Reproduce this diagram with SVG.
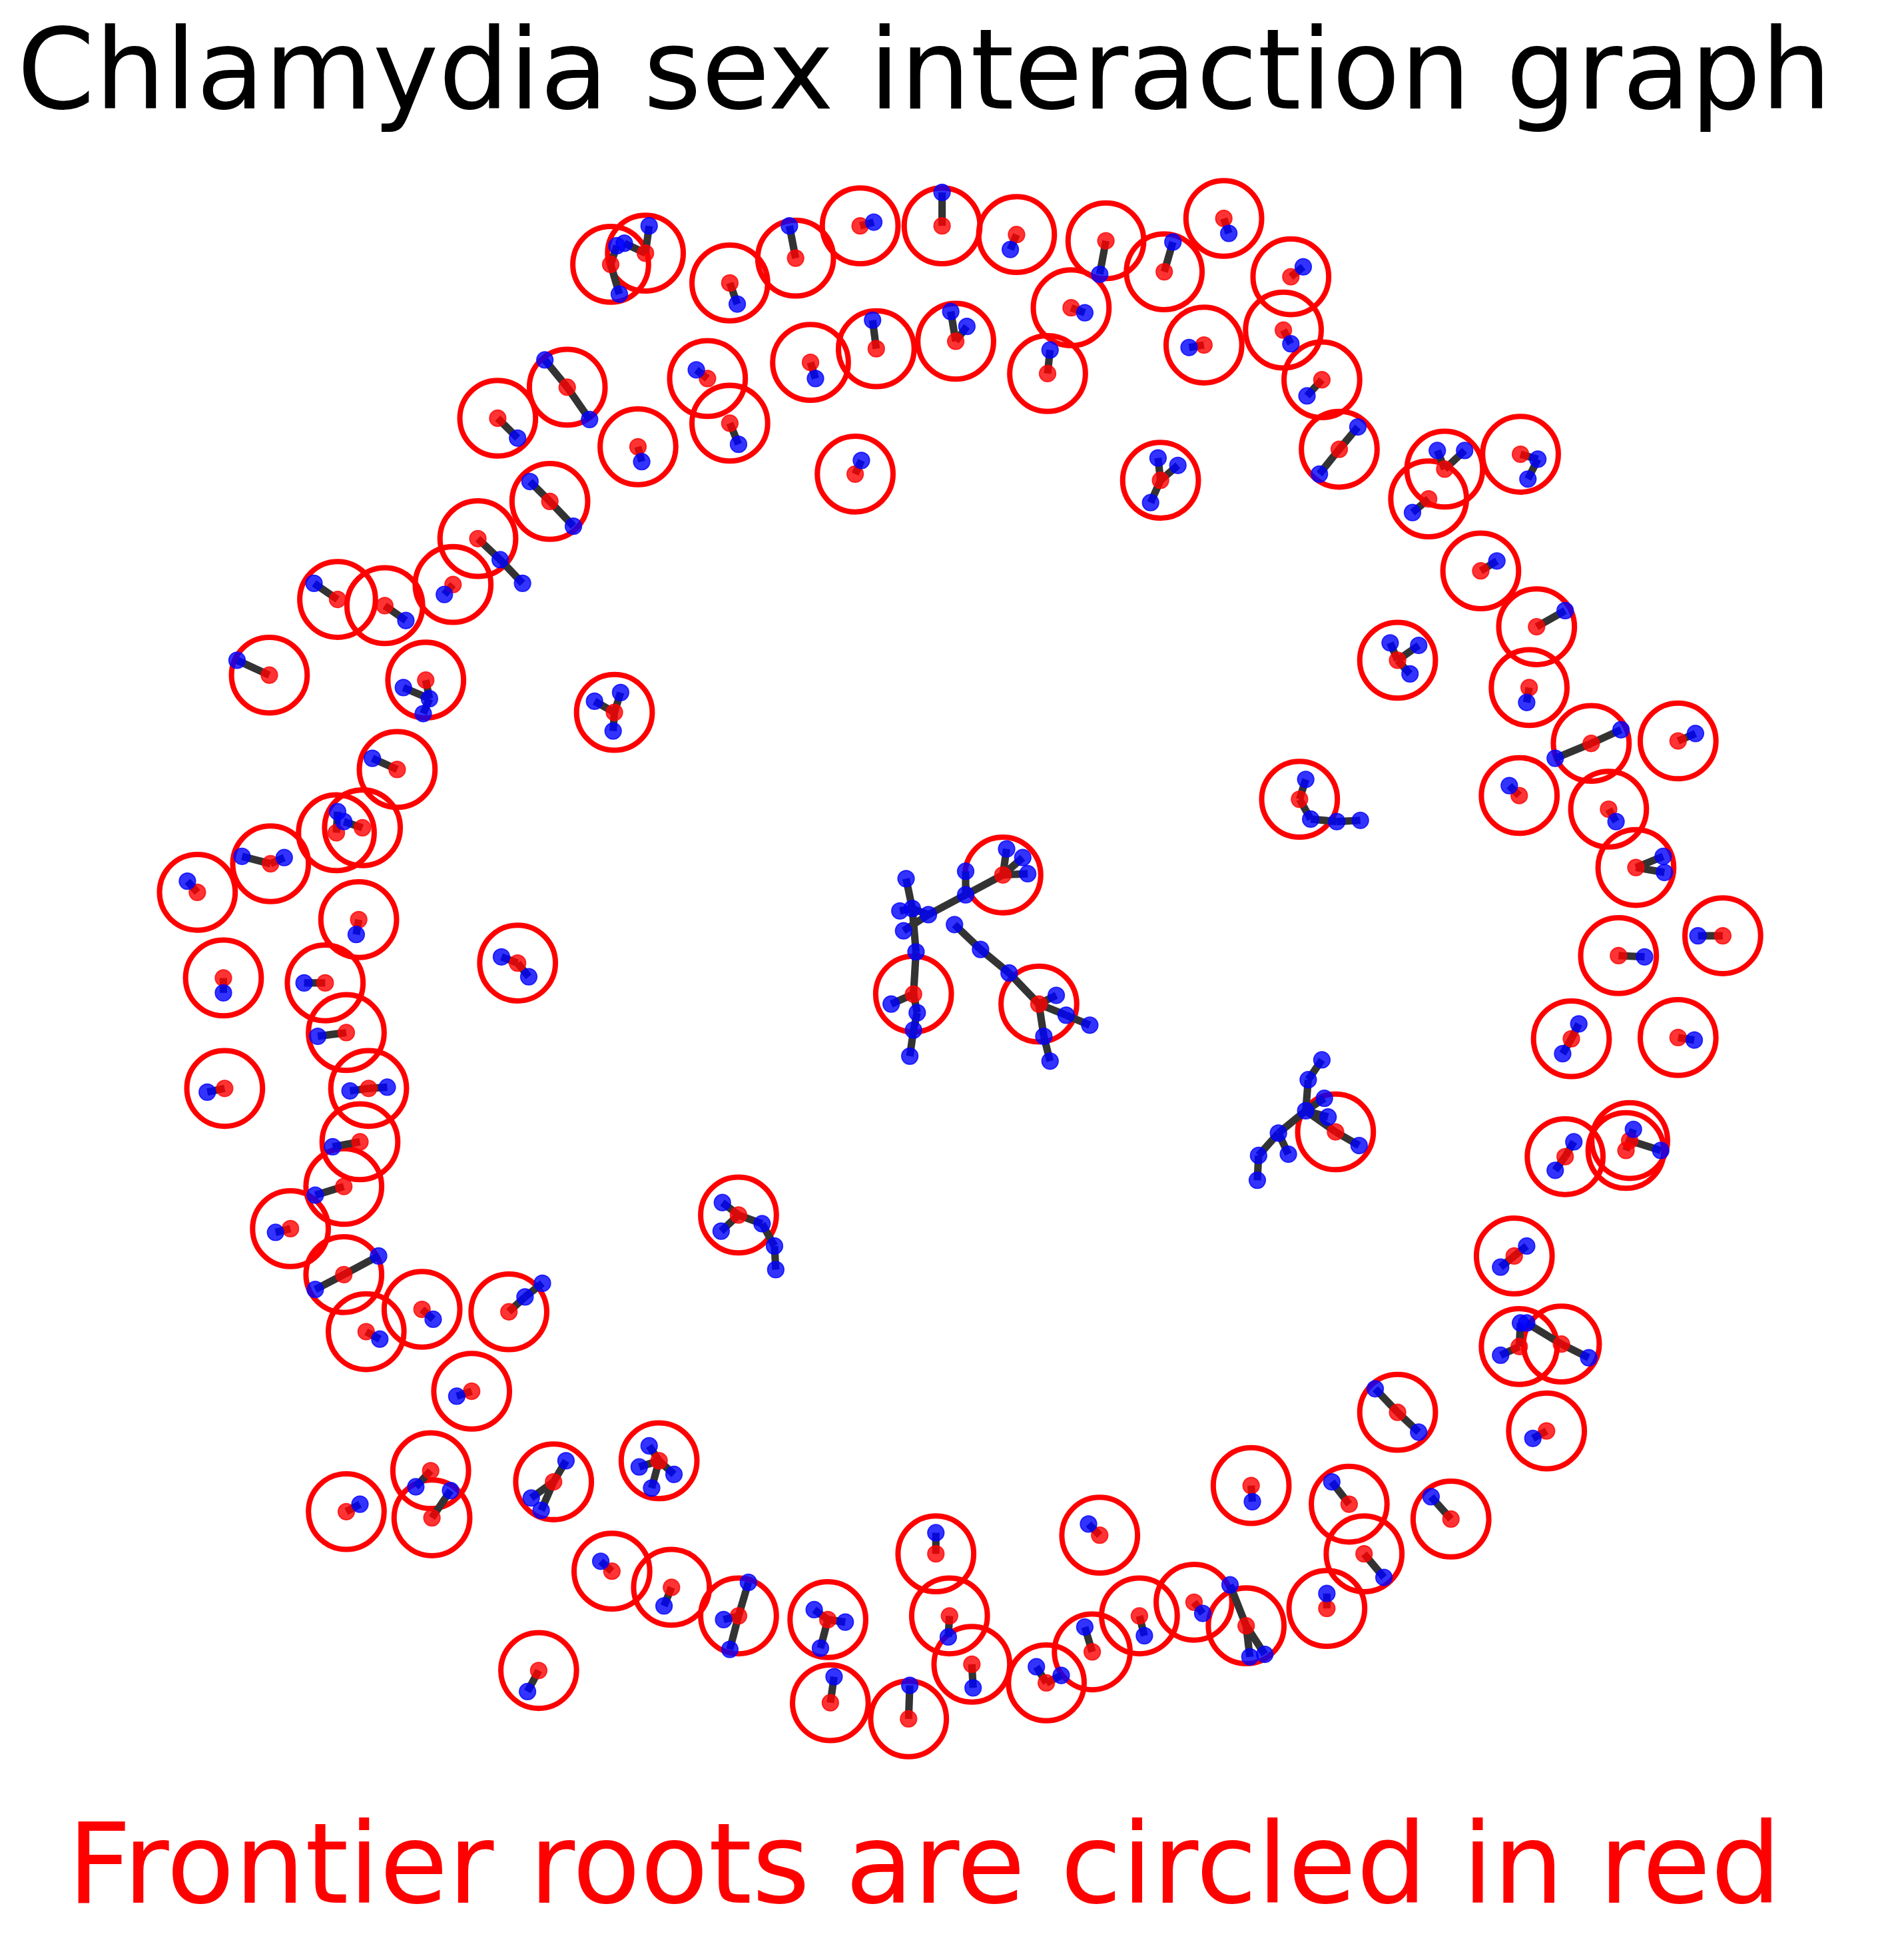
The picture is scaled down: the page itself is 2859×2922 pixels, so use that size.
<svg xmlns="http://www.w3.org/2000/svg" width="2859" height="2922" viewBox="0 0 2859 2922">
<style>
.ring{fill:none;stroke:#ff0000;stroke-width:4.3}
.e line{stroke:#333333;stroke-width:6}
.r{fill:#ff0000;fill-opacity:.8;stroke:#ff0000;stroke-opacity:.8;stroke-width:.9}
.b{fill:#0000ff;fill-opacity:.8;stroke:#0000ff;stroke-opacity:.8;stroke-width:.9}
.t{font-family:"DejaVu Sans",Verdana,sans-serif;text-anchor:middle}
</style>
<rect width="2859" height="2922" fill="#ffffff"/>
<text class="t" x="1388" y="163" font-size="167" fill="#000000">Chlamydia sex interaction graph</text>
<text class="t" x="1388" y="2857" font-size="167" fill="#ff0000">Frontier roots are circled in red</text>
<g transform="scale(1.86375,1.86352)">
<g id="rings">
<circle class="ring" cx="492" cy="213" r="30.5"/><circle class="ring" cx="520" cy="204" r="30.5"/><circle class="ring" cx="588" cy="228" r="30.5"/><circle class="ring" cx="641" cy="208" r="30.5"/><circle class="ring" cx="693" cy="182" r="30.5"/><circle class="ring" cx="759" cy="182" r="30.5"/><circle class="ring" cx="819" cy="189" r="30.5"/><circle class="ring" cx="891" cy="194" r="30.5"/><circle class="ring" cx="938" cy="219" r="30.5"/><circle class="ring" cx="986" cy="176" r="30.5"/><circle class="ring" cx="1040" cy="223" r="30.5"/><circle class="ring" cx="1034" cy="266" r="30.5"/><circle class="ring" cx="1065" cy="306" r="30.5"/><circle class="ring" cx="1079" cy="362" r="30.5"/><circle class="ring" cx="1164" cy="378" r="30.5"/><circle class="ring" cx="1151" cy="402" r="30.5"/><circle class="ring" cx="1225" cy="366" r="30.5"/><circle class="ring" cx="1193" cy="460" r="30.5"/><circle class="ring" cx="570" cy="305" r="30.5"/><circle class="ring" cx="588" cy="341" r="30.5"/><circle class="ring" cx="653" cy="292" r="30.5"/><circle class="ring" cx="706" cy="281" r="30.5"/><circle class="ring" cx="770" cy="275" r="30.5"/><circle class="ring" cx="863" cy="248" r="30.5"/><circle class="ring" cx="844" cy="301" r="30.5"/><circle class="ring" cx="970" cy="278" r="30.5"/><circle class="ring" cx="689" cy="382" r="30.5"/><circle class="ring" cx="935" cy="387" r="30.5"/><circle class="ring" cx="401" cy="337" r="30.5"/><circle class="ring" cx="457" cy="312" r="30.5"/><circle class="ring" cx="514" cy="360" r="30.5"/><circle class="ring" cx="443" cy="404" r="30.5"/><circle class="ring" cx="385" cy="434" r="30.5"/><circle class="ring" cx="272" cy="483" r="30.5"/><circle class="ring" cx="310" cy="488" r="30.5"/><circle class="ring" cx="365" cy="471" r="30.5"/><circle class="ring" cx="217" cy="544" r="30.5"/><circle class="ring" cx="343" cy="548" r="30.5"/><circle class="ring" cx="495" cy="574" r="30.5"/><circle class="ring" cx="320" cy="620" r="30.5"/><circle class="ring" cx="271" cy="671" r="30.5"/><circle class="ring" cx="292" cy="667" r="30.5"/><circle class="ring" cx="218" cy="696" r="30.5"/><circle class="ring" cx="159" cy="719" r="30.5"/><circle class="ring" cx="289" cy="741" r="30.5"/><circle class="ring" cx="417" cy="776" r="30.5"/><circle class="ring" cx="180" cy="788" r="30.5"/><circle class="ring" cx="262" cy="792" r="30.5"/><circle class="ring" cx="279" cy="832" r="30.5"/><circle class="ring" cx="181" cy="877" r="30.5"/><circle class="ring" cx="297" cy="877" r="30.5"/><circle class="ring" cx="290" cy="920" r="30.5"/><circle class="ring" cx="277" cy="956" r="30.5"/><circle class="ring" cx="234" cy="990" r="30.5"/><circle class="ring" cx="277" cy="1027" r="30.5"/><circle class="ring" cx="295" cy="1073" r="30.5"/><circle class="ring" cx="340" cy="1055" r="30.5"/><circle class="ring" cx="410" cy="1057" r="30.5"/><circle class="ring" cx="380" cy="1121" r="30.5"/><circle class="ring" cx="279" cy="1218" r="30.5"/><circle class="ring" cx="347" cy="1185" r="30.5"/><circle class="ring" cx="348" cy="1223" r="30.5"/><circle class="ring" cx="446" cy="1194" r="30.5"/><circle class="ring" cx="531" cy="1177" r="30.5"/><circle class="ring" cx="493" cy="1266" r="30.5"/><circle class="ring" cx="541" cy="1279" r="30.5"/><circle class="ring" cx="434" cy="1346" r="30.5"/><circle class="ring" cx="595" cy="1302" r="30.5"/><circle class="ring" cx="667" cy="1305" r="30.5"/><circle class="ring" cx="669" cy="1372" r="30.5"/><circle class="ring" cx="732" cy="1385" r="30.5"/><circle class="ring" cx="754" cy="1252" r="30.5"/><circle class="ring" cx="765" cy="1302" r="30.5"/><circle class="ring" cx="783" cy="1341" r="30.5"/><circle class="ring" cx="886" cy="1237" r="30.5"/><circle class="ring" cx="843" cy="1356" r="30.5"/><circle class="ring" cx="880" cy="1331" r="30.5"/><circle class="ring" cx="918" cy="1302" r="30.5"/><circle class="ring" cx="962" cy="1291" r="30.5"/><circle class="ring" cx="1004" cy="1310" r="30.5"/><circle class="ring" cx="1069" cy="1296" r="30.5"/><circle class="ring" cx="1008" cy="1197" r="30.5"/><circle class="ring" cx="1087" cy="1212" r="30.5"/><circle class="ring" cx="1099" cy="1252" r="30.5"/><circle class="ring" cx="1169" cy="1224" r="30.5"/><circle class="ring" cx="1126" cy="1138" r="30.5"/><circle class="ring" cx="1246" cy="1153" r="30.5"/><circle class="ring" cx="1076" cy="912" r="30.5"/><circle class="ring" cx="1266" cy="837" r="30.5"/><circle class="ring" cx="1352" cy="836" r="30.5"/><circle class="ring" cx="1261" cy="932" r="30.5"/><circle class="ring" cx="1313" cy="919" r="30.5"/><circle class="ring" cx="1310" cy="927" r="30.5"/><circle class="ring" cx="1220" cy="1012" r="30.5"/><circle class="ring" cx="1224" cy="1085" r="30.5"/><circle class="ring" cx="1258" cy="1083" r="30.5"/><circle class="ring" cx="1126" cy="532" r="30.5"/><circle class="ring" cx="1238" cy="505" r="30.5"/><circle class="ring" cx="1232" cy="554" r="30.5"/><circle class="ring" cx="1282" cy="599" r="30.5"/><circle class="ring" cx="1352" cy="597" r="30.5"/><circle class="ring" cx="1224" cy="641" r="30.5"/><circle class="ring" cx="1296" cy="652" r="30.5"/><circle class="ring" cx="1318" cy="699" r="30.5"/><circle class="ring" cx="1047" cy="644" r="30.5"/><circle class="ring" cx="1304" cy="770" r="30.5"/><circle class="ring" cx="1388" cy="754" r="30.5"/><circle class="ring" cx="595" cy="979" r="30.5"/><circle class="ring" cx="808" cy="705" r="30.5"/><circle class="ring" cx="736" cy="801" r="30.5"/><circle class="ring" cx="837" cy="809" r="30.5"/>
</g>
<g id="edges" class="e">
<line x1="492" y1="213" x2="499" y2="237"/><line x1="492" y1="213" x2="497" y2="198"/>
<line x1="520" y1="204" x2="523" y2="182"/><line x1="520" y1="204" x2="503" y2="196"/>
<line x1="588" y1="228" x2="594" y2="245"/>
<line x1="641" y1="208" x2="636" y2="182"/>
<line x1="693" y1="182" x2="704" y2="179"/>
<line x1="759" y1="182" x2="759" y2="155"/>
<line x1="819" y1="189" x2="814" y2="201"/>
<line x1="891" y1="194" x2="886" y2="221"/>
<line x1="938" y1="219" x2="945" y2="195"/>
<line x1="986" y1="176" x2="990" y2="188"/>
<line x1="1040" y1="223" x2="1050" y2="215"/>
<line x1="1034" y1="266" x2="1040" y2="277"/>
<line x1="1065" y1="306" x2="1053" y2="319"/>
<line x1="1079" y1="362" x2="1094" y2="344"/><line x1="1079" y1="362" x2="1063" y2="382"/>
<line x1="1164" y1="378" x2="1158" y2="363"/><line x1="1164" y1="378" x2="1180" y2="363"/>
<line x1="1151" y1="402" x2="1138" y2="413"/>
<line x1="1225" y1="366" x2="1239" y2="370"/><line x1="1239" y1="370" x2="1231" y2="386"/>
<line x1="1193" y1="460" x2="1206" y2="452"/>
<line x1="570" y1="305" x2="561" y2="298"/>
<line x1="588" y1="341" x2="595" y2="358"/>
<line x1="653" y1="292" x2="657" y2="305"/>
<line x1="706" y1="281" x2="703" y2="258"/>
<line x1="770" y1="275" x2="766" y2="251"/><line x1="770" y1="275" x2="779" y2="263"/>
<line x1="863" y1="248" x2="874" y2="252"/>
<line x1="844" y1="301" x2="846" y2="282"/>
<line x1="970" y1="278" x2="958" y2="280"/>
<line x1="689" y1="382" x2="694" y2="371"/>
<line x1="935" y1="387" x2="933" y2="369"/><line x1="935" y1="387" x2="949" y2="375"/><line x1="935" y1="387" x2="927" y2="405"/>
<line x1="401" y1="337" x2="417" y2="353"/>
<line x1="457" y1="312" x2="439" y2="290"/><line x1="457" y1="312" x2="475" y2="338"/>
<line x1="514" y1="360" x2="517" y2="372"/>
<line x1="443" y1="404" x2="427" y2="388"/><line x1="443" y1="404" x2="462" y2="424"/>
<line x1="385" y1="434" x2="403" y2="451"/><line x1="403" y1="451" x2="421" y2="470"/>
<line x1="272" y1="483" x2="253" y2="470"/>
<line x1="310" y1="488" x2="327" y2="500"/>
<line x1="365" y1="471" x2="358" y2="479"/>
<line x1="217" y1="544" x2="191" y2="532"/>
<line x1="343" y1="548" x2="346" y2="563"/><line x1="346" y1="563" x2="325" y2="554"/><line x1="346" y1="563" x2="341" y2="575"/>
<line x1="495" y1="574" x2="479" y2="565"/><line x1="495" y1="574" x2="500" y2="558"/><line x1="495" y1="574" x2="494" y2="589"/>
<line x1="320" y1="620" x2="300" y2="611"/>
<line x1="271" y1="671" x2="272" y2="654"/>
<line x1="292" y1="667" x2="277" y2="662"/>
<line x1="218" y1="696" x2="195" y2="690"/><line x1="218" y1="696" x2="229" y2="691"/>
<line x1="159" y1="719" x2="151" y2="710"/>
<line x1="289" y1="741" x2="287" y2="753"/>
<line x1="417" y1="776" x2="404" y2="771"/><line x1="417" y1="776" x2="426" y2="787"/>
<line x1="180" y1="788" x2="180" y2="800"/>
<line x1="262" y1="792" x2="245" y2="792"/>
<line x1="279" y1="832" x2="256" y2="835"/>
<line x1="181" y1="877" x2="167" y2="880"/>
<line x1="297" y1="877" x2="282" y2="879"/><line x1="297" y1="877" x2="312" y2="876"/>
<line x1="290" y1="920" x2="268" y2="924"/>
<line x1="277" y1="956" x2="254" y2="963"/>
<line x1="234" y1="990" x2="222" y2="993"/>
<line x1="277" y1="1027" x2="254" y2="1039"/><line x1="277" y1="1027" x2="305" y2="1012"/>
<line x1="295" y1="1073" x2="306" y2="1079"/>
<line x1="340" y1="1055" x2="349" y2="1063"/>
<line x1="410" y1="1057" x2="423" y2="1045"/><line x1="423" y1="1045" x2="437" y2="1034"/>
<line x1="380" y1="1121" x2="368" y2="1125"/>
<line x1="279" y1="1218" x2="290" y2="1212"/>
<line x1="347" y1="1185" x2="335" y2="1198"/>
<line x1="348" y1="1223" x2="363" y2="1201"/>
<line x1="446" y1="1194" x2="456" y2="1177"/><line x1="446" y1="1194" x2="428" y2="1207"/><line x1="446" y1="1194" x2="436" y2="1217"/>
<line x1="531" y1="1177" x2="523" y2="1165"/><line x1="531" y1="1177" x2="515" y2="1182"/><line x1="531" y1="1177" x2="543" y2="1188"/><line x1="531" y1="1177" x2="525" y2="1199"/>
<line x1="493" y1="1266" x2="484" y2="1258"/>
<line x1="541" y1="1279" x2="535" y2="1294"/>
<line x1="434" y1="1346" x2="425" y2="1363"/>
<line x1="595" y1="1302" x2="603" y2="1275"/><line x1="595" y1="1302" x2="583" y2="1305"/><line x1="595" y1="1302" x2="588" y2="1329"/>
<line x1="667" y1="1305" x2="656" y2="1297"/><line x1="667" y1="1305" x2="681" y2="1307"/><line x1="667" y1="1305" x2="661" y2="1328"/>
<line x1="669" y1="1372" x2="672" y2="1351"/>
<line x1="732" y1="1385" x2="733" y2="1358"/>
<line x1="754" y1="1252" x2="754" y2="1235"/>
<line x1="765" y1="1302" x2="764" y2="1319"/>
<line x1="783" y1="1341" x2="784" y2="1360"/>
<line x1="886" y1="1237" x2="877" y2="1228"/>
<line x1="843" y1="1356" x2="835" y2="1343"/><line x1="843" y1="1356" x2="855" y2="1350"/>
<line x1="880" y1="1331" x2="874" y2="1311"/>
<line x1="918" y1="1302" x2="922" y2="1318"/>
<line x1="962" y1="1291" x2="969" y2="1300"/>
<line x1="1004" y1="1310" x2="991" y2="1277"/><line x1="1004" y1="1310" x2="1007" y2="1335"/><line x1="1004" y1="1310" x2="1019" y2="1333"/>
<line x1="1069" y1="1296" x2="1069" y2="1284"/>
<line x1="1008" y1="1197" x2="1009" y2="1210"/>
<line x1="1087" y1="1212" x2="1073" y2="1194"/>
<line x1="1099" y1="1252" x2="1115" y2="1271"/>
<line x1="1169" y1="1224" x2="1153" y2="1206"/>
<line x1="1126" y1="1138" x2="1108" y2="1119"/><line x1="1126" y1="1138" x2="1143" y2="1154"/>
<line x1="1246" y1="1153" x2="1235" y2="1159"/>
<line x1="1065" y1="854" x2="1054" y2="870"/><line x1="1054" y1="870" x2="1052" y2="895"/><line x1="1052" y1="895" x2="1067" y2="885"/><line x1="1052" y1="895" x2="1070" y2="900"/><line x1="1052" y1="895" x2="1076" y2="912"/><line x1="1076" y1="912" x2="1095" y2="923"/><line x1="1052" y1="895" x2="1030" y2="913"/><line x1="1030" y1="913" x2="1014" y2="931"/><line x1="1014" y1="931" x2="1013" y2="951"/><line x1="1030" y1="913" x2="1038" y2="930"/>
<line x1="1266" y1="837" x2="1272" y2="825"/><line x1="1266" y1="837" x2="1259" y2="849"/>
<line x1="1352" y1="836" x2="1365" y2="838"/>
<line x1="1261" y1="932" x2="1268" y2="920"/><line x1="1261" y1="932" x2="1253" y2="943"/>
<line x1="1313" y1="919" x2="1338" y2="927"/>
<line x1="1310" y1="927" x2="1316" y2="910"/>
<line x1="1220" y1="1012" x2="1230" y2="1004"/><line x1="1220" y1="1012" x2="1209" y2="1021"/>
<line x1="1224" y1="1085" x2="1225" y2="1066"/><line x1="1224" y1="1085" x2="1209" y2="1092"/>
<line x1="1258" y1="1083" x2="1230" y2="1066"/><line x1="1258" y1="1083" x2="1280" y2="1094"/>
<line x1="1126" y1="532" x2="1120" y2="518"/><line x1="1126" y1="532" x2="1143" y2="520"/><line x1="1126" y1="532" x2="1136" y2="543"/>
<line x1="1238" y1="505" x2="1261" y2="492"/>
<line x1="1232" y1="554" x2="1230" y2="566"/>
<line x1="1282" y1="599" x2="1306" y2="588"/><line x1="1282" y1="599" x2="1253" y2="611"/>
<line x1="1352" y1="597" x2="1366" y2="591"/>
<line x1="1224" y1="641" x2="1216" y2="633"/>
<line x1="1296" y1="652" x2="1302" y2="662"/>
<line x1="1318" y1="699" x2="1340" y2="690"/><line x1="1318" y1="699" x2="1341" y2="703"/>
<line x1="1047" y1="644" x2="1052" y2="628"/><line x1="1047" y1="644" x2="1056" y2="660"/><line x1="1056" y1="660" x2="1077" y2="662"/><line x1="1077" y1="662" x2="1096" y2="661"/>
<line x1="1304" y1="770" x2="1325" y2="771"/>
<line x1="1388" y1="754" x2="1368" y2="754"/>
<line x1="595" y1="979" x2="582" y2="969"/><line x1="595" y1="979" x2="581" y2="992"/><line x1="595" y1="979" x2="614" y2="986"/><line x1="614" y1="986" x2="624" y2="1004"/><line x1="624" y1="1004" x2="625" y2="1023"/>
<line x1="808" y1="705" x2="811" y2="684"/><line x1="808" y1="705" x2="824" y2="691"/><line x1="808" y1="705" x2="828" y2="704"/><line x1="808" y1="705" x2="778" y2="721"/><line x1="778" y1="721" x2="778" y2="702"/><line x1="778" y1="721" x2="748" y2="737"/><line x1="748" y1="737" x2="735" y2="732"/><line x1="748" y1="737" x2="728" y2="750"/><line x1="735" y1="732" x2="725" y2="734"/><line x1="735" y1="732" x2="730" y2="708"/><line x1="735" y1="732" x2="738" y2="767"/><line x1="738" y1="767" x2="736" y2="801"/><line x1="736" y1="801" x2="718" y2="809"/><line x1="736" y1="801" x2="739" y2="816"/><line x1="739" y1="816" x2="736" y2="830"/><line x1="736" y1="830" x2="733" y2="851"/>
<line x1="769" y1="745" x2="790" y2="765"/><line x1="790" y1="765" x2="813" y2="784"/><line x1="813" y1="784" x2="837" y2="809"/><line x1="837" y1="809" x2="851" y2="802"/><line x1="837" y1="809" x2="859" y2="818"/><line x1="859" y1="818" x2="878" y2="826"/><line x1="837" y1="809" x2="841" y2="835"/><line x1="841" y1="835" x2="846" y2="855"/>
</g>
<g id="nodes">
<g id="root-1"><circle class="r" cx="492" cy="213" r="6.6"/></g><g id="root-2"><circle class="r" cx="520" cy="204" r="6.6"/></g><g id="root-3"><circle class="r" cx="588" cy="228" r="6.6"/></g><g id="root-4"><circle class="r" cx="641" cy="208" r="6.6"/></g><g id="root-5"><circle class="r" cx="693" cy="182" r="6.6"/></g><g id="root-6"><circle class="r" cx="759" cy="182" r="6.6"/></g><g id="root-7"><circle class="r" cx="819" cy="189" r="6.6"/></g><g id="root-8"><circle class="r" cx="891" cy="194" r="6.6"/></g><g id="root-9"><circle class="r" cx="938" cy="219" r="6.6"/></g><g id="root-10"><circle class="r" cx="986" cy="176" r="6.6"/></g><g id="root-11"><circle class="r" cx="1040" cy="223" r="6.6"/></g><g id="root-12"><circle class="r" cx="1034" cy="266" r="6.6"/></g><g id="root-13"><circle class="r" cx="1065" cy="306" r="6.6"/></g><g id="root-14"><circle class="r" cx="1079" cy="362" r="6.6"/></g><g id="root-15"><circle class="r" cx="1164" cy="378" r="6.6"/></g><g id="root-16"><circle class="r" cx="1151" cy="402" r="6.6"/></g><g id="root-17"><circle class="r" cx="1225" cy="366" r="6.6"/></g><g id="root-18"><circle class="r" cx="1193" cy="460" r="6.6"/></g><g id="root-19"><circle class="r" cx="570" cy="305" r="6.6"/></g><g id="root-20"><circle class="r" cx="588" cy="341" r="6.6"/></g><g id="root-21"><circle class="r" cx="653" cy="292" r="6.6"/></g><g id="root-22"><circle class="r" cx="706" cy="281" r="6.6"/></g><g id="root-23"><circle class="r" cx="770" cy="275" r="6.6"/></g><g id="root-24"><circle class="r" cx="863" cy="248" r="6.6"/></g><g id="root-25"><circle class="r" cx="844" cy="301" r="6.6"/></g><g id="root-26"><circle class="r" cx="970" cy="278" r="6.6"/></g><g id="root-27"><circle class="r" cx="689" cy="382" r="6.6"/></g><g id="root-28"><circle class="r" cx="935" cy="387" r="6.6"/></g><g id="root-29"><circle class="r" cx="401" cy="337" r="6.6"/></g><g id="root-30"><circle class="r" cx="457" cy="312" r="6.6"/></g><g id="root-31"><circle class="r" cx="514" cy="360" r="6.6"/></g><g id="root-32"><circle class="r" cx="443" cy="404" r="6.6"/></g><g id="root-33"><circle class="r" cx="385" cy="434" r="6.6"/></g><g id="root-34"><circle class="r" cx="272" cy="483" r="6.6"/></g><g id="root-35"><circle class="r" cx="310" cy="488" r="6.6"/></g><g id="root-36"><circle class="r" cx="365" cy="471" r="6.6"/></g><g id="root-37"><circle class="r" cx="217" cy="544" r="6.6"/></g><g id="root-38"><circle class="r" cx="343" cy="548" r="6.6"/></g><g id="root-39"><circle class="r" cx="495" cy="574" r="6.6"/></g><g id="root-40"><circle class="r" cx="320" cy="620" r="6.6"/></g><g id="root-41"><circle class="r" cx="271" cy="671" r="6.6"/></g><g id="root-42"><circle class="r" cx="292" cy="667" r="6.6"/></g><g id="root-43"><circle class="r" cx="218" cy="696" r="6.6"/></g><g id="root-44"><circle class="r" cx="159" cy="719" r="6.6"/></g><g id="root-45"><circle class="r" cx="289" cy="741" r="6.6"/></g><g id="root-46"><circle class="r" cx="417" cy="776" r="6.6"/></g><g id="root-47"><circle class="r" cx="180" cy="788" r="6.6"/></g><g id="root-48"><circle class="r" cx="262" cy="792" r="6.6"/></g><g id="root-49"><circle class="r" cx="279" cy="832" r="6.6"/></g><g id="root-50"><circle class="r" cx="181" cy="877" r="6.6"/></g><g id="root-51"><circle class="r" cx="297" cy="877" r="6.6"/></g><g id="root-52"><circle class="r" cx="290" cy="920" r="6.6"/></g><g id="root-53"><circle class="r" cx="277" cy="956" r="6.6"/></g><g id="root-54"><circle class="r" cx="234" cy="990" r="6.6"/></g><g id="root-55"><circle class="r" cx="277" cy="1027" r="6.6"/></g><g id="root-56"><circle class="r" cx="295" cy="1073" r="6.6"/></g><g id="root-57"><circle class="r" cx="340" cy="1055" r="6.6"/></g><g id="root-58"><circle class="r" cx="410" cy="1057" r="6.6"/></g><g id="root-59"><circle class="r" cx="380" cy="1121" r="6.6"/></g><g id="root-60"><circle class="r" cx="279" cy="1218" r="6.6"/></g><g id="root-61"><circle class="r" cx="347" cy="1185" r="6.6"/></g><g id="root-62"><circle class="r" cx="348" cy="1223" r="6.6"/></g><g id="root-63"><circle class="r" cx="446" cy="1194" r="6.6"/></g><g id="root-64"><circle class="r" cx="531" cy="1177" r="6.6"/></g><g id="root-65"><circle class="r" cx="493" cy="1266" r="6.6"/></g><g id="root-66"><circle class="r" cx="541" cy="1279" r="6.6"/></g><g id="root-67"><circle class="r" cx="434" cy="1346" r="6.6"/></g><g id="root-68"><circle class="r" cx="595" cy="1302" r="6.6"/></g><g id="root-69"><circle class="r" cx="667" cy="1305" r="6.6"/></g><g id="root-70"><circle class="r" cx="669" cy="1372" r="6.6"/></g><g id="root-71"><circle class="r" cx="732" cy="1385" r="6.6"/></g><g id="root-72"><circle class="r" cx="754" cy="1252" r="6.6"/></g><g id="root-73"><circle class="r" cx="765" cy="1302" r="6.6"/></g><g id="root-74"><circle class="r" cx="783" cy="1341" r="6.6"/></g><g id="root-75"><circle class="r" cx="886" cy="1237" r="6.6"/></g><g id="root-76"><circle class="r" cx="843" cy="1356" r="6.6"/></g><g id="root-77"><circle class="r" cx="880" cy="1331" r="6.6"/></g><g id="root-78"><circle class="r" cx="918" cy="1302" r="6.6"/></g><g id="root-79"><circle class="r" cx="962" cy="1291" r="6.6"/></g><g id="root-80"><circle class="r" cx="1004" cy="1310" r="6.6"/></g><g id="root-81"><circle class="r" cx="1069" cy="1296" r="6.6"/></g><g id="root-82"><circle class="r" cx="1008" cy="1197" r="6.6"/></g><g id="root-83"><circle class="r" cx="1087" cy="1212" r="6.6"/></g><g id="root-84"><circle class="r" cx="1099" cy="1252" r="6.6"/></g><g id="root-85"><circle class="r" cx="1169" cy="1224" r="6.6"/></g><g id="root-86"><circle class="r" cx="1126" cy="1138" r="6.6"/></g><g id="root-87"><circle class="r" cx="1246" cy="1153" r="6.6"/></g><g id="root-88"><circle class="r" cx="1076" cy="912" r="6.6"/></g><g id="root-89"><circle class="r" cx="1266" cy="837" r="6.6"/></g><g id="root-90"><circle class="r" cx="1352" cy="836" r="6.6"/></g><g id="root-91"><circle class="r" cx="1261" cy="932" r="6.6"/></g><g id="root-92"><circle class="r" cx="1313" cy="919" r="6.6"/></g><g id="root-93"><circle class="r" cx="1310" cy="927" r="6.6"/></g><g id="root-94"><circle class="r" cx="1220" cy="1012" r="6.6"/></g><g id="root-95"><circle class="r" cx="1224" cy="1085" r="6.6"/></g><g id="root-96"><circle class="r" cx="1258" cy="1083" r="6.6"/></g><g id="root-97"><circle class="r" cx="1126" cy="532" r="6.6"/></g><g id="root-98"><circle class="r" cx="1238" cy="505" r="6.6"/></g><g id="root-99"><circle class="r" cx="1232" cy="554" r="6.6"/></g><g id="root-100"><circle class="r" cx="1282" cy="599" r="6.6"/></g><g id="root-101"><circle class="r" cx="1352" cy="597" r="6.6"/></g><g id="root-102"><circle class="r" cx="1224" cy="641" r="6.6"/></g><g id="root-103"><circle class="r" cx="1296" cy="652" r="6.6"/></g><g id="root-104"><circle class="r" cx="1318" cy="699" r="6.6"/></g><g id="root-105"><circle class="r" cx="1047" cy="644" r="6.6"/></g><g id="root-106"><circle class="r" cx="1304" cy="770" r="6.6"/></g><g id="root-107"><circle class="r" cx="1388" cy="754" r="6.6"/></g><g id="root-108"><circle class="r" cx="595" cy="979" r="6.6"/></g><g id="root-109"><circle class="r" cx="808" cy="705" r="6.6"/></g><g id="root-110"><circle class="r" cx="736" cy="801" r="6.6"/></g><g id="root-111"><circle class="r" cx="837" cy="809" r="6.6"/></g>
<g id="p-1"><circle class="b" cx="499" cy="237" r="6.6"/></g><g id="p-2"><circle class="b" cx="497" cy="198" r="6.6"/></g><g id="p-3"><circle class="b" cx="523" cy="182" r="6.6"/></g><g id="p-4"><circle class="b" cx="503" cy="196" r="6.6"/></g><g id="p-5"><circle class="b" cx="594" cy="245" r="6.6"/></g><g id="p-6"><circle class="b" cx="636" cy="182" r="6.6"/></g><g id="p-7"><circle class="b" cx="704" cy="179" r="6.6"/></g><g id="p-8"><circle class="b" cx="759" cy="155" r="6.6"/></g><g id="p-9"><circle class="b" cx="814" cy="201" r="6.6"/></g><g id="p-10"><circle class="b" cx="886" cy="221" r="6.6"/></g><g id="p-11"><circle class="b" cx="945" cy="195" r="6.6"/></g><g id="p-12"><circle class="b" cx="990" cy="188" r="6.6"/></g><g id="p-13"><circle class="b" cx="1050" cy="215" r="6.6"/></g><g id="p-14"><circle class="b" cx="1040" cy="277" r="6.6"/></g><g id="p-15"><circle class="b" cx="1053" cy="319" r="6.6"/></g><g id="p-16"><circle class="b" cx="1094" cy="344" r="6.6"/></g><g id="p-17"><circle class="b" cx="1063" cy="382" r="6.6"/></g><g id="p-18"><circle class="b" cx="1158" cy="363" r="6.6"/></g><g id="p-19"><circle class="b" cx="1180" cy="363" r="6.6"/></g><g id="p-20"><circle class="b" cx="1138" cy="413" r="6.6"/></g><g id="p-21"><circle class="b" cx="1239" cy="370" r="6.6"/></g><g id="p-22"><circle class="b" cx="1231" cy="386" r="6.6"/></g><g id="p-23"><circle class="b" cx="1206" cy="452" r="6.6"/></g><g id="p-24"><circle class="b" cx="561" cy="298" r="6.6"/></g><g id="p-25"><circle class="b" cx="595" cy="358" r="6.6"/></g><g id="p-26"><circle class="b" cx="657" cy="305" r="6.6"/></g><g id="p-27"><circle class="b" cx="703" cy="258" r="6.6"/></g><g id="p-28"><circle class="b" cx="766" cy="251" r="6.6"/></g><g id="p-29"><circle class="b" cx="779" cy="263" r="6.6"/></g><g id="p-30"><circle class="b" cx="874" cy="252" r="6.6"/></g><g id="p-31"><circle class="b" cx="846" cy="282" r="6.6"/></g><g id="p-32"><circle class="b" cx="958" cy="280" r="6.6"/></g><g id="p-33"><circle class="b" cx="694" cy="371" r="6.6"/></g><g id="p-34"><circle class="b" cx="933" cy="369" r="6.6"/></g><g id="p-35"><circle class="b" cx="949" cy="375" r="6.6"/></g><g id="p-36"><circle class="b" cx="927" cy="405" r="6.6"/></g><g id="p-37"><circle class="b" cx="417" cy="353" r="6.6"/></g><g id="p-38"><circle class="b" cx="439" cy="290" r="6.6"/></g><g id="p-39"><circle class="b" cx="475" cy="338" r="6.6"/></g><g id="p-40"><circle class="b" cx="517" cy="372" r="6.6"/></g><g id="p-41"><circle class="b" cx="427" cy="388" r="6.6"/></g><g id="p-42"><circle class="b" cx="462" cy="424" r="6.6"/></g><g id="p-43"><circle class="b" cx="403" cy="451" r="6.6"/></g><g id="p-44"><circle class="b" cx="421" cy="470" r="6.6"/></g><g id="p-45"><circle class="b" cx="253" cy="470" r="6.6"/></g><g id="p-46"><circle class="b" cx="327" cy="500" r="6.6"/></g><g id="p-47"><circle class="b" cx="358" cy="479" r="6.6"/></g><g id="p-48"><circle class="b" cx="191" cy="532" r="6.6"/></g><g id="p-49"><circle class="b" cx="346" cy="563" r="6.6"/></g><g id="p-50"><circle class="b" cx="325" cy="554" r="6.6"/></g><g id="p-51"><circle class="b" cx="341" cy="575" r="6.6"/></g><g id="p-52"><circle class="b" cx="479" cy="565" r="6.6"/></g><g id="p-53"><circle class="b" cx="500" cy="558" r="6.6"/></g><g id="p-54"><circle class="b" cx="494" cy="589" r="6.6"/></g><g id="p-55"><circle class="b" cx="300" cy="611" r="6.6"/></g><g id="p-56"><circle class="b" cx="272" cy="654" r="6.6"/></g><g id="p-57"><circle class="b" cx="277" cy="662" r="6.6"/></g><g id="p-58"><circle class="b" cx="195" cy="690" r="6.6"/></g><g id="p-59"><circle class="b" cx="229" cy="691" r="6.6"/></g><g id="p-60"><circle class="b" cx="151" cy="710" r="6.6"/></g><g id="p-61"><circle class="b" cx="287" cy="753" r="6.6"/></g><g id="p-62"><circle class="b" cx="404" cy="771" r="6.6"/></g><g id="p-63"><circle class="b" cx="426" cy="787" r="6.6"/></g><g id="p-64"><circle class="b" cx="180" cy="800" r="6.6"/></g><g id="p-65"><circle class="b" cx="245" cy="792" r="6.6"/></g><g id="p-66"><circle class="b" cx="256" cy="835" r="6.6"/></g><g id="p-67"><circle class="b" cx="167" cy="880" r="6.6"/></g><g id="p-68"><circle class="b" cx="282" cy="879" r="6.6"/></g><g id="p-69"><circle class="b" cx="312" cy="876" r="6.6"/></g><g id="p-70"><circle class="b" cx="268" cy="924" r="6.6"/></g><g id="p-71"><circle class="b" cx="254" cy="963" r="6.6"/></g><g id="p-72"><circle class="b" cx="222" cy="993" r="6.6"/></g><g id="p-73"><circle class="b" cx="254" cy="1039" r="6.6"/></g><g id="p-74"><circle class="b" cx="305" cy="1012" r="6.6"/></g><g id="p-75"><circle class="b" cx="306" cy="1079" r="6.6"/></g><g id="p-76"><circle class="b" cx="349" cy="1063" r="6.6"/></g><g id="p-77"><circle class="b" cx="423" cy="1045" r="6.6"/></g><g id="p-78"><circle class="b" cx="437" cy="1034" r="6.6"/></g><g id="p-79"><circle class="b" cx="368" cy="1125" r="6.6"/></g><g id="p-80"><circle class="b" cx="290" cy="1212" r="6.6"/></g><g id="p-81"><circle class="b" cx="335" cy="1198" r="6.6"/></g><g id="p-82"><circle class="b" cx="363" cy="1201" r="6.6"/></g><g id="p-83"><circle class="b" cx="456" cy="1177" r="6.6"/></g><g id="p-84"><circle class="b" cx="428" cy="1207" r="6.6"/></g><g id="p-85"><circle class="b" cx="436" cy="1217" r="6.6"/></g><g id="p-86"><circle class="b" cx="523" cy="1165" r="6.6"/></g><g id="p-87"><circle class="b" cx="515" cy="1182" r="6.6"/></g><g id="p-88"><circle class="b" cx="543" cy="1188" r="6.6"/></g><g id="p-89"><circle class="b" cx="525" cy="1199" r="6.6"/></g><g id="p-90"><circle class="b" cx="484" cy="1258" r="6.6"/></g><g id="p-91"><circle class="b" cx="535" cy="1294" r="6.6"/></g><g id="p-92"><circle class="b" cx="425" cy="1363" r="6.6"/></g><g id="p-93"><circle class="b" cx="603" cy="1275" r="6.6"/></g><g id="p-94"><circle class="b" cx="583" cy="1305" r="6.6"/></g><g id="p-95"><circle class="b" cx="588" cy="1329" r="6.6"/></g><g id="p-96"><circle class="b" cx="656" cy="1297" r="6.6"/></g><g id="p-97"><circle class="b" cx="681" cy="1307" r="6.6"/></g><g id="p-98"><circle class="b" cx="661" cy="1328" r="6.6"/></g><g id="p-99"><circle class="b" cx="672" cy="1351" r="6.6"/></g><g id="p-100"><circle class="b" cx="733" cy="1358" r="6.6"/></g><g id="p-101"><circle class="b" cx="754" cy="1235" r="6.6"/></g><g id="p-102"><circle class="b" cx="764" cy="1319" r="6.6"/></g><g id="p-103"><circle class="b" cx="784" cy="1360" r="6.6"/></g><g id="p-104"><circle class="b" cx="877" cy="1228" r="6.6"/></g><g id="p-105"><circle class="b" cx="835" cy="1343" r="6.6"/></g><g id="p-106"><circle class="b" cx="855" cy="1350" r="6.6"/></g><g id="p-107"><circle class="b" cx="874" cy="1311" r="6.6"/></g><g id="p-108"><circle class="b" cx="922" cy="1318" r="6.6"/></g><g id="p-109"><circle class="b" cx="969" cy="1300" r="6.6"/></g><g id="p-110"><circle class="b" cx="991" cy="1277" r="6.6"/></g><g id="p-111"><circle class="b" cx="1007" cy="1335" r="6.6"/></g><g id="p-112"><circle class="b" cx="1019" cy="1333" r="6.6"/></g><g id="p-113"><circle class="b" cx="1069" cy="1284" r="6.6"/></g><g id="p-114"><circle class="b" cx="1009" cy="1210" r="6.6"/></g><g id="p-115"><circle class="b" cx="1073" cy="1194" r="6.6"/></g><g id="p-116"><circle class="b" cx="1115" cy="1271" r="6.6"/></g><g id="p-117"><circle class="b" cx="1153" cy="1206" r="6.6"/></g><g id="p-118"><circle class="b" cx="1108" cy="1119" r="6.6"/></g><g id="p-119"><circle class="b" cx="1143" cy="1154" r="6.6"/></g><g id="p-120"><circle class="b" cx="1235" cy="1159" r="6.6"/></g><g id="p-121"><circle class="b" cx="1065" cy="854" r="6.6"/></g><g id="p-122"><circle class="b" cx="1054" cy="870" r="6.6"/></g><g id="p-123"><circle class="b" cx="1052" cy="895" r="6.6"/></g><g id="p-124"><circle class="b" cx="1067" cy="885" r="6.6"/></g><g id="p-125"><circle class="b" cx="1070" cy="900" r="6.6"/></g><g id="p-126"><circle class="b" cx="1095" cy="923" r="6.6"/></g><g id="p-127"><circle class="b" cx="1030" cy="913" r="6.6"/></g><g id="p-128"><circle class="b" cx="1014" cy="931" r="6.6"/></g><g id="p-129"><circle class="b" cx="1013" cy="951" r="6.6"/></g><g id="p-130"><circle class="b" cx="1038" cy="930" r="6.6"/></g><g id="p-131"><circle class="b" cx="1272" cy="825" r="6.6"/></g><g id="p-132"><circle class="b" cx="1259" cy="849" r="6.6"/></g><g id="p-133"><circle class="b" cx="1365" cy="838" r="6.6"/></g><g id="p-134"><circle class="b" cx="1268" cy="920" r="6.6"/></g><g id="p-135"><circle class="b" cx="1253" cy="943" r="6.6"/></g><g id="p-136"><circle class="b" cx="1338" cy="927" r="6.6"/></g><g id="p-137"><circle class="b" cx="1316" cy="910" r="6.6"/></g><g id="p-138"><circle class="b" cx="1230" cy="1004" r="6.6"/></g><g id="p-139"><circle class="b" cx="1209" cy="1021" r="6.6"/></g><g id="p-140"><circle class="b" cx="1225" cy="1066" r="6.6"/></g><g id="p-141"><circle class="b" cx="1209" cy="1092" r="6.6"/></g><g id="p-142"><circle class="b" cx="1230" cy="1066" r="6.6"/></g><g id="p-143"><circle class="b" cx="1280" cy="1094" r="6.6"/></g><g id="p-144"><circle class="b" cx="1120" cy="518" r="6.6"/></g><g id="p-145"><circle class="b" cx="1143" cy="520" r="6.6"/></g><g id="p-146"><circle class="b" cx="1136" cy="543" r="6.6"/></g><g id="p-147"><circle class="b" cx="1261" cy="492" r="6.6"/></g><g id="p-148"><circle class="b" cx="1230" cy="566" r="6.6"/></g><g id="p-149"><circle class="b" cx="1306" cy="588" r="6.6"/></g><g id="p-150"><circle class="b" cx="1253" cy="611" r="6.6"/></g><g id="p-151"><circle class="b" cx="1366" cy="591" r="6.6"/></g><g id="p-152"><circle class="b" cx="1216" cy="633" r="6.6"/></g><g id="p-153"><circle class="b" cx="1302" cy="662" r="6.6"/></g><g id="p-154"><circle class="b" cx="1340" cy="690" r="6.6"/></g><g id="p-155"><circle class="b" cx="1341" cy="703" r="6.6"/></g><g id="p-156"><circle class="b" cx="1052" cy="628" r="6.6"/></g><g id="p-157"><circle class="b" cx="1056" cy="660" r="6.6"/></g><g id="p-158"><circle class="b" cx="1077" cy="662" r="6.6"/></g><g id="p-159"><circle class="b" cx="1096" cy="661" r="6.6"/></g><g id="p-160"><circle class="b" cx="1325" cy="771" r="6.6"/></g><g id="p-161"><circle class="b" cx="1368" cy="754" r="6.6"/></g><g id="p-162"><circle class="b" cx="582" cy="969" r="6.6"/></g><g id="p-163"><circle class="b" cx="581" cy="992" r="6.6"/></g><g id="p-164"><circle class="b" cx="614" cy="986" r="6.6"/></g><g id="p-165"><circle class="b" cx="624" cy="1004" r="6.6"/></g><g id="p-166"><circle class="b" cx="625" cy="1023" r="6.6"/></g><g id="p-167"><circle class="b" cx="811" cy="684" r="6.6"/></g><g id="p-168"><circle class="b" cx="824" cy="691" r="6.6"/></g><g id="p-169"><circle class="b" cx="828" cy="704" r="6.6"/></g><g id="p-170"><circle class="b" cx="778" cy="721" r="6.6"/></g><g id="p-171"><circle class="b" cx="778" cy="702" r="6.6"/></g><g id="p-172"><circle class="b" cx="748" cy="737" r="6.6"/></g><g id="p-173"><circle class="b" cx="735" cy="732" r="6.6"/></g><g id="p-174"><circle class="b" cx="725" cy="734" r="6.6"/></g><g id="p-175"><circle class="b" cx="730" cy="708" r="6.6"/></g><g id="p-176"><circle class="b" cx="728" cy="750" r="6.6"/></g><g id="p-177"><circle class="b" cx="738" cy="767" r="6.6"/></g><g id="p-178"><circle class="b" cx="718" cy="809" r="6.6"/></g><g id="p-179"><circle class="b" cx="739" cy="816" r="6.6"/></g><g id="p-180"><circle class="b" cx="736" cy="830" r="6.6"/></g><g id="p-181"><circle class="b" cx="733" cy="851" r="6.6"/></g><g id="p-182"><circle class="b" cx="769" cy="745" r="6.6"/></g><g id="p-183"><circle class="b" cx="790" cy="765" r="6.6"/></g><g id="p-184"><circle class="b" cx="813" cy="784" r="6.6"/></g><g id="p-185"><circle class="b" cx="851" cy="802" r="6.6"/></g><g id="p-186"><circle class="b" cx="859" cy="818" r="6.6"/></g><g id="p-187"><circle class="b" cx="878" cy="826" r="6.6"/></g><g id="p-188"><circle class="b" cx="841" cy="835" r="6.6"/></g><g id="p-189"><circle class="b" cx="846" cy="855" r="6.6"/></g>
</g>
</g>
</svg>
